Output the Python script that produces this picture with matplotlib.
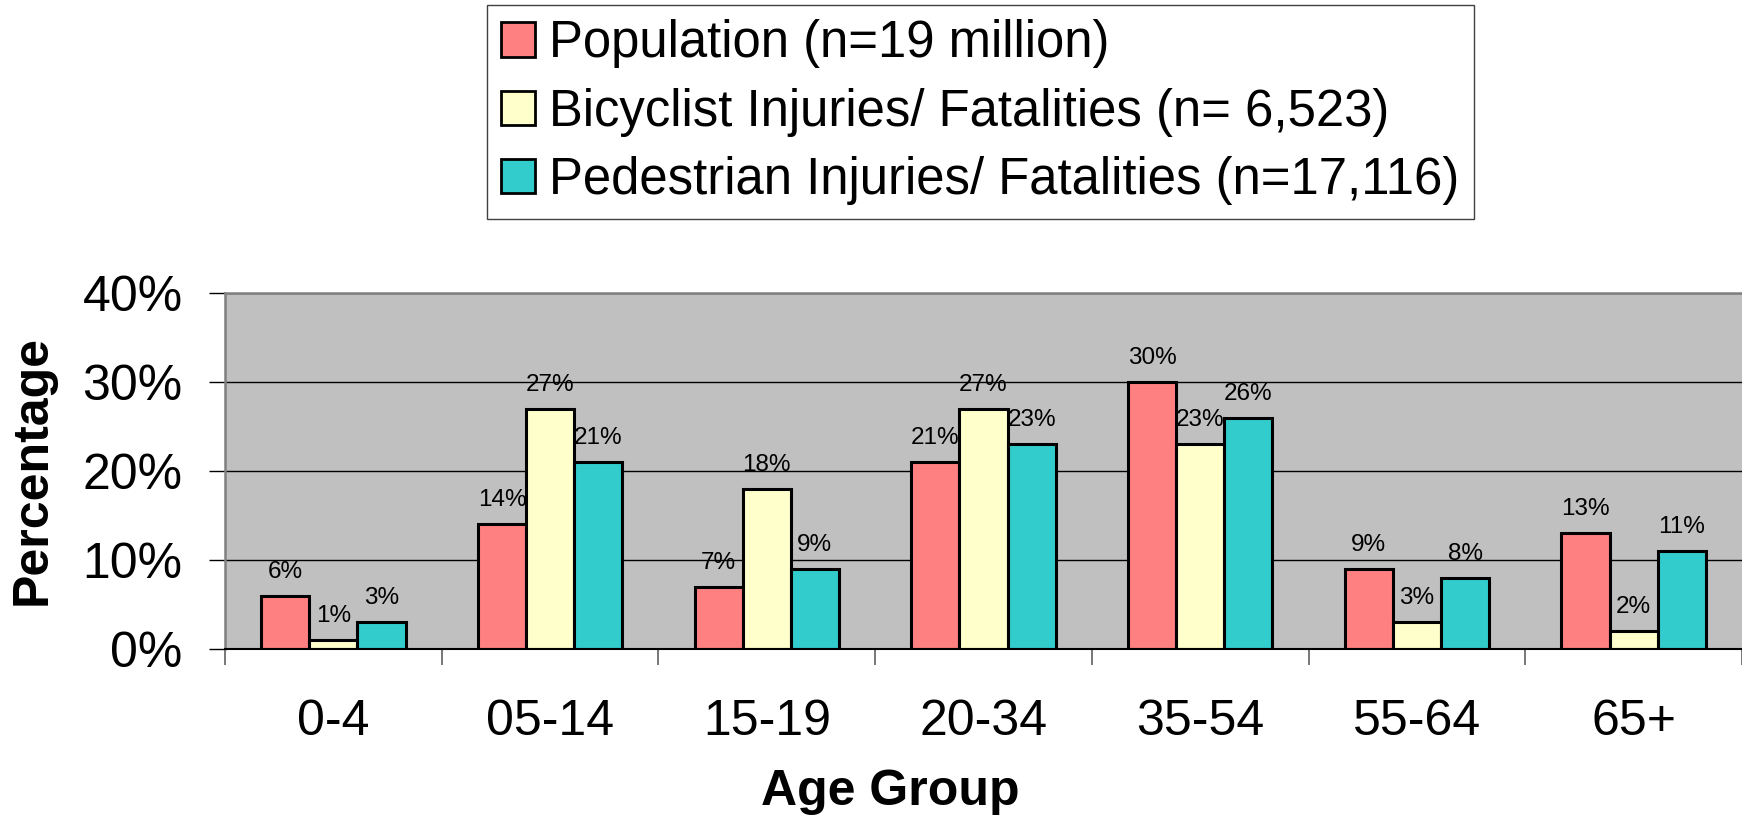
import matplotlib
matplotlib.use("Agg")
import matplotlib.pyplot as plt
import numpy as np
from matplotlib.ticker import FuncFormatter, FixedLocator
from matplotlib.patches import Patch

plt.rcParams['font.family'] = ['Liberation Sans', 'DejaVu Sans']

categories = ["0-4", "05-14", "15-19", "20-34", "35-54", "55-64", "65+"]
population = [6, 14, 7, 21, 30, 9, 13]
bicyclist = [1, 27, 18, 27, 23, 3, 2]
pedestrian = [3, 21, 9, 23, 26, 8, 11]
series_names = ["Population (n=19 million)",
                "Bicyclist Injuries/ Fatalities (n= 6,523)",
                "Pedestrian Injuries/ Fatalities (n=17,116)"]
colors = ["#FF8080", "#FFFFCC", "#33CCCC"]
y_ticks = [0, 10, 20, 30, 40]

fig = plt.figure(figsize=(17.42, 8.15), dpi=100)
ax = fig.add_axes([225 / 1742, 166 / 815, 1 - 225 / 1742, (649 - 293) / 815])
ax.set_facecolor("#C0C0C0")

x = np.arange(len(categories))
bw = 0.222
series = [population, bicyclist, pedestrian]
for i, (vals, col, name) in enumerate(zip(series, colors, series_names)):
    xs = x + (i - 1) * bw
    ax.bar(xs, vals, width=bw, color=col, edgecolor="black", linewidth=2.2,
           label=name, zorder=3)
    for xi, v in zip(xs, vals):
        ax.annotate(f"{v}%", (xi, v), xytext=(0, 13), textcoords="offset points",
                    ha="center", va="baseline", fontsize=17.5, zorder=4)

ax.set_xlim(-0.5, len(categories) - 0.5)
ax.set_ylim(0, 40)
ax.yaxis.set_major_locator(FixedLocator(y_ticks))
ax.yaxis.set_major_formatter(FuncFormatter(lambda v, p: f"{v:.0f}%"))
ax.yaxis.grid(True, color="black", linewidth=1.0, zorder=1)
ax.set_axisbelow(True)

ax.set_xticks(x)
ax.set_xticklabels(categories)
ax.set_xticks(np.arange(-0.5, len(categories), 1.0), minor=True)
ax.tick_params(axis="x", which="major", length=0, pad=36, labelsize=36)
ax.tick_params(axis="x", which="minor", length=11.5, width=1.2, color="#606060")
ax.tick_params(axis="y", which="major", length=11.5, width=1.0, color="black",
               pad=19, labelsize=36)

for s in ["top", "left"]:
    ax.spines[s].set_color("#808080")
    ax.spines[s].set_linewidth(1.8)
ax.spines["right"].set_visible(False)
ax.spines["bottom"].set_color("black")
ax.spines["bottom"].set_linewidth(1.5)
ax.spines["bottom"].set_zorder(5)

fig.text(33 / 1742, (815 - 470) / 815, "Percentage", rotation=90, ha="center",
         va="center", fontsize=36, fontweight="bold")
fig.text(890 / 1742, 10 / 815, "Age Group", ha="center", va="baseline",
         fontsize=36, fontweight="bold")

handles = [Patch(facecolor=c, edgecolor="black", linewidth=2.0) for c in colors]
leg = fig.legend(handles, series_names, loc="upper left",
                 bbox_to_anchor=(487 / 1742, 1 - 5 / 815), borderaxespad=0,
                 fontsize=36.6, handlelength=0.66, handleheight=0.66,
                 handletextpad=0.28, labelspacing=0.38, borderpad=0.28,
                 fancybox=False, framealpha=1, edgecolor="#404040")
leg.get_frame().set_linewidth(1.0)

fig.savefig("out.png", dpi=100)
